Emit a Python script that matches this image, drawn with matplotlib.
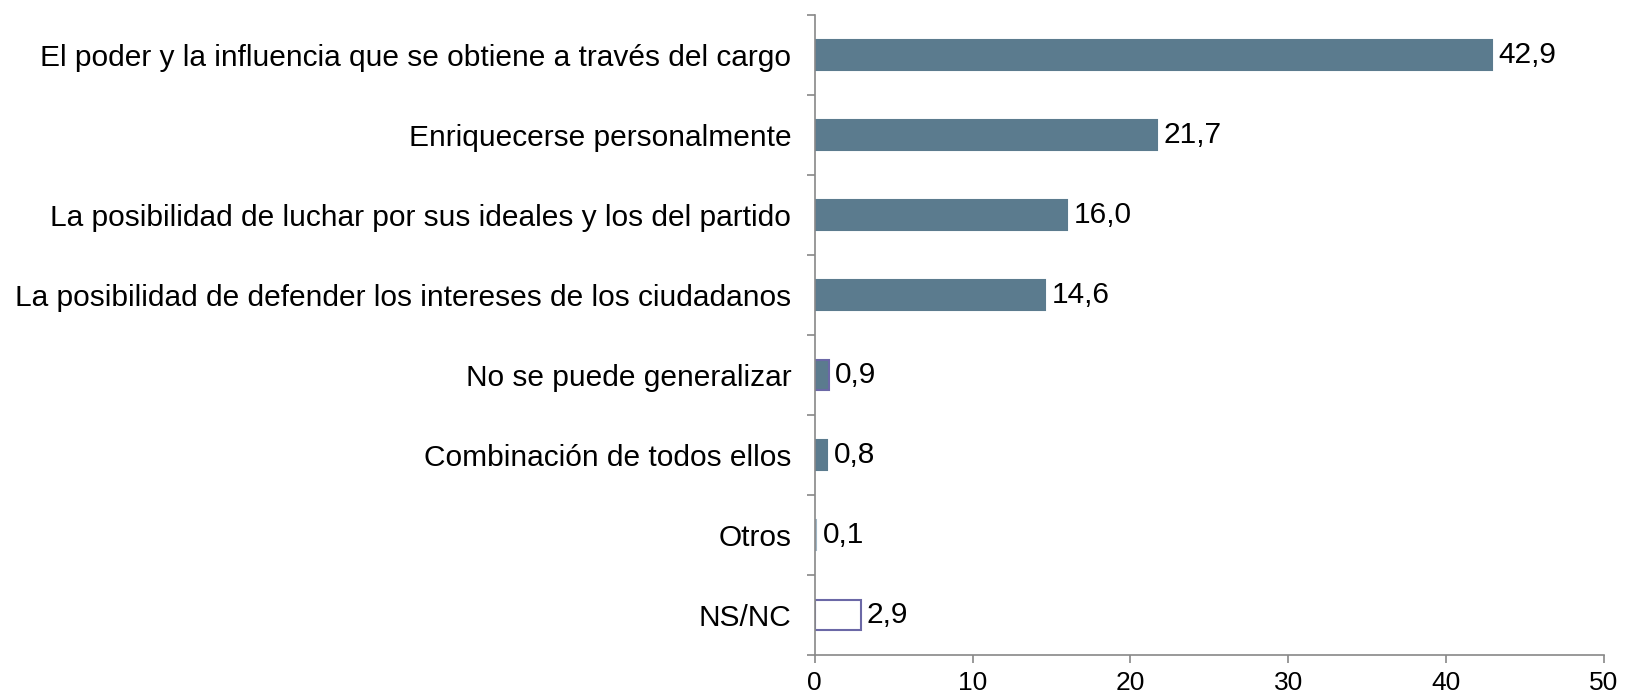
'''horizontal bar chart: motivaciones del cargo.'''
import numpy as np
import matplotlib
matplotlib.use('Agg')
import matplotlib.pyplot as plt

categories = [
    'El poder y la influencia que se obtiene a través del cargo',
    'Enriquecerse personalmente',
    'La posibilidad de luchar por sus ideales y los del partido',
    'La posibilidad de defender los intereses de los ciudadanos',
    'No se puede generalizar',
    'Combinación de todos ellos',
    'Otros',
    'NS/NC',
]
values = [42.9, 21.7, 16.0, 14.6, 0.9, 0.8, 0.1, 2.9]
face_colors = ['#5b7b8e'] * 6 + ['#a9bfcd', 'white']
edge_colors = ['#5b7b8e'] * 4 + ['#6b68a6', '#5b7b8e', '#9fb5c4', '#6b68a6']

plt.rcParams['font.family'] = ['Liberation Sans', 'DejaVu Sans']

fig = plt.figure(figsize=(16.25, 6.95), dpi=100)
ax = fig.add_axes([0.5014, 0.0575, 0.4856, 0.921])

y = np.arange(len(categories))
ax.barh(y, values, height=0.385, color=face_colors, edgecolor=edge_colors,
        linewidth=1.5)

for yi, v in zip(y, values):
    ax.text(v + 0.4, yi, f'{v:.1f}'.replace('.', ','), va='center',
            ha='left', fontsize=21.5)

ax.set_xlim(0, 50)
ax.set_ylim(len(categories) - 0.5, -0.5)
ax.set_xticks(np.arange(0, 51, 10))
ax.set_yticks(y)
ax.set_yticklabels(categories, fontsize=21.5)
ax.set_yticks(np.arange(-0.5, len(categories)), minor=True)
ax.tick_params(axis='y', which='major', length=0, pad=17)
ax.tick_params(axis='y', which='minor', length=6, color='#888888', width=1.2)
ax.tick_params(axis='x', length=6, color='#888888', width=1.2, pad=5.5,
               labelsize=19)

for side in ['top', 'right']:
    ax.spines[side].set_visible(False)
for side in ['left', 'bottom']:
    ax.spines[side].set_color('#888888')
    ax.spines[side].set_linewidth(1.2)

fig.savefig('out.png', dpi=100)
